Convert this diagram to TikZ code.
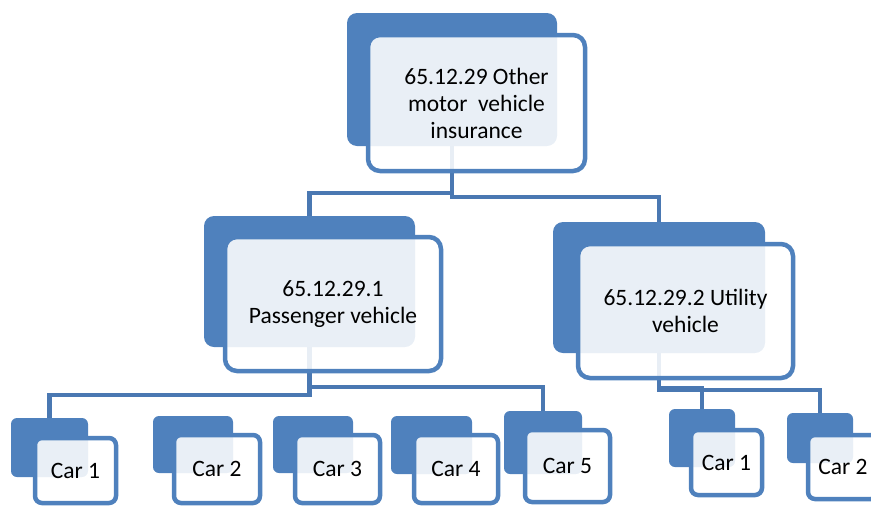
\documentclass[tikz,border=0pt]{standalone}
\usepackage{fontspec}
\setmainfont{Carlito}
\usepackage{xcolor}
\usetikzlibrary{positioning,backgrounds}
\definecolor{boxblue}{HTML}{4F81BD}
\definecolor{linkblue}{HTML}{4A78B2}

\begin{document}
\begin{tikzpicture}[x=1pt, y=-1pt,
    backbox/.style={rectangle, fill=boxblue, rounded corners=10pt, anchor=north west, inner sep=0pt, outer sep=0pt},
    frontbox/.style={rectangle, draw=boxblue, line width=4.5pt, fill=white, fill opacity=0.88, text opacity=1, rounded corners=12pt, anchor=north west, inner sep=0pt, outer sep=0pt, align=center, font=\fontsize{23.5}{27}\selectfont},
    carback/.style={backbox, rounded corners=6pt},
    carfront/.style={frontbox, rounded corners=7pt},
    link/.style={draw=linkblue, line width=4.5pt}]

    \useasboundingbox (0,0) rectangle (871,507);

    % top level
    \node[backbox, minimum width=210pt, minimum height=133pt] (topbk) at (347,13) {};
    \node[frontbox, minimum width=217pt, minimum height=136pt] (top) at (368,35) {65.12.29 Other\\motor~ vehicle\\insurance};

    % second level
    \node[backbox, minimum width=211pt, minimum height=131pt] (passbk) at (204,216) {};
    \node[frontbox, minimum width=216pt, minimum height=134pt] (pass) at (225,237) {65.12.29.1\\Passenger vehicle};
    \node[backbox, minimum width=212pt, minimum height=131pt] (utilbk) at (553,222) {};
    \node[frontbox, minimum width=215pt, minimum height=134pt] (util) at (578,244) {65.12.29.2 Utility\\vehicle};

    % passenger cars
    \node[carback, minimum width=77pt, minimum height=59pt] (car1bk) at (11,418) {};
    \node[carfront, minimum width=81pt, minimum height=65pt] (car1) at (35,438) {Car 1};
    \node[carback, minimum width=80pt, minimum height=57pt] (car2bk) at (153,416) {};
    \node[carfront, minimum width=86pt, minimum height=68pt] (car2) at (174,435) {Car 2};
    \node[carback, minimum width=80pt, minimum height=57pt] (car3bk) at (273,416) {};
    \node[carfront, minimum width=85pt, minimum height=68pt] (car3) at (295,435) {Car 3};
    \node[carback, minimum width=81pt, minimum height=58pt] (car4bk) at (391,416) {};
    \node[carfront, minimum width=84pt, minimum height=68pt] (car4) at (414,435) {Car 4};
    \node[carback, minimum width=78pt, minimum height=63pt] (car5bk) at (504,411) {};
    \node[carfront, minimum width=85pt, minimum height=72pt] (car5) at (525,430) {Car 5};

    % utility cars
    \node[carback, minimum width=66pt, minimum height=58pt] (ucar1bk) at (669,409) {};
    \node[carfront, minimum width=71pt, minimum height=65pt] (ucar1) at (691,430) {Car 1};
    \node[carback, minimum width=66pt, minimum height=50pt] (ucar2bk) at (787,413) {};
    \node[carfront, minimum width=70pt, minimum height=64pt] (ucar2) at (808,435) {Car 2};

    \begin{scope}[on background layer]
        \draw[link] (topbk.south) -- ++(0,47) -| (passbk.north);
        \draw[link] (topbk.south) -- ++(0,51) -| (utilbk.north);
        \draw[link] (passbk.south) -- ++(0,48) -| (car1bk.north);
        \draw[link] (passbk.south) -- ++(0,40) -| (car5bk.north);
        \draw[link] (utilbk.south) -- ++(0,35) -| (ucar1bk.north);
        \draw[link] (utilbk.south) -- ++(0,37) -| (ucar2bk.north);
    \end{scope}
\end{tikzpicture}
\end{document}
